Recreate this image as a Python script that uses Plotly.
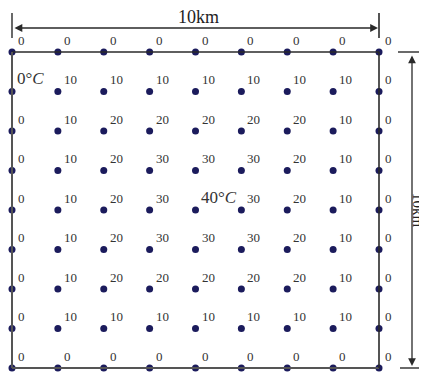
import plotly.graph_objects as go

# grid of temperatures (rows from top to bottom, columns left to right)
row_values = [
    [0, 0, 0, 0, 0, 0, 0, 0, 0],
    [0, 10, 10, 10, 10, 10, 10, 10, 0],
    [0, 10, 20, 20, 20, 20, 20, 10, 0],
    [0, 10, 20, 30, 30, 30, 20, 10, 0],
    [0, 10, 20, 30, 40, 30, 20, 10, 0],
    [0, 10, 20, 30, 30, 30, 20, 10, 0],
    [0, 10, 20, 20, 20, 20, 20, 10, 0],
    [0, 10, 10, 10, 10, 10, 10, 10, 0],
    [0, 0, 0, 0, 0, 0, 0, 0, 0],
]
domain_km = 10
n = 9
x_km = [i * domain_km / (n - 1) for i in range(n)]
y_km = [domain_km - i * domain_km / (n - 1) for i in range(n)]
special_labels = {(1, 0): "0°<i>C</i>", (4, 4): "40°<i>C</i>"}
dim_label = "10km"

# pixel mapping helpers (layout only; page pixels, page has 8px body margin)
PAGE_OFF = 8
PX_X0, PX_PER_KM_X = 12, 36.7
PX_Y0, PX_PER_KM_Y = 368, 31.6
W, H = 427, 372
def kx(px):
    return (px - PX_X0) / PX_PER_KM_X
def ky(py):
    return (PX_Y0 - py) / PX_PER_KM_Y

xs, ys = [], []
for r in range(n):
    for c in range(n):
        xs.append(x_km[c])
        ys.append(y_km[r])

fig = go.Figure()
line_col = "#2a2a2a"
shapes = [
    # border rectangle
    dict(type="line", x0=0, y0=domain_km, x1=domain_km, y1=domain_km, line=dict(color=line_col, width=1.6)),
    dict(type="line", x0=0, y0=0, x1=domain_km, y1=0, line=dict(color="#555", width=2)),
    dict(type="line", x0=0, y0=0, x1=0, y1=domain_km, line=dict(color="#555", width=2)),
    dict(type="line", x0=domain_km, y0=0, x1=domain_km, y1=domain_km, line=dict(color=line_col, width=1.6)),
    # top dimension ticks
    dict(type="line", x0=0, y0=ky(13), x1=0, y1=ky(38), line=dict(color="#444", width=1.6)),
    dict(type="line", x0=domain_km, y0=ky(13), x1=domain_km, y1=ky(38), line=dict(color=line_col, width=1.6)),
    # right dimension ticks
    dict(type="line", x0=kx(398), y0=domain_km, x1=kx(430), y1=domain_km, line=dict(color=line_col, width=1.4)),
    dict(type="line", x0=kx(400), y0=0, x1=kx(430), y1=0, line=dict(color=line_col, width=1.4)),
]

fig.add_trace(go.Scatter(
    x=xs, y=ys, mode="markers",
    marker=dict(color="#1b1b5c", size=7, line=dict(width=0)),
    hoverinfo="skip", showlegend=False, cliponaxis=False,
))

annotations = []
for r in range(n):
    for c in range(n):
        txt = special_labels.get((r, c), str(row_values[r][c]))
        big = (r, c) in special_labels
        annotations.append(dict(
            x=x_km[c], y=y_km[r], xref="x", yref="y", text=txt, showarrow=False,
            xanchor="left", yanchor="middle", xshift=4 if not big else 3,
            yshift=12 if not big else 13,
            font=dict(family="Liberation Serif", size=17 if big else 13, color="#333"),
        ))

# top dimension arrow
annotations.append(dict(x=domain_km, y=ky(28), ax=0, ay=ky(28), xref="x", yref="y", axref="x", ayref="y",
                        text="", showarrow=True, arrowhead=2, arrowside="end+start", arrowsize=1.2,
                        arrowwidth=1.3, arrowcolor=line_col, standoff=1, startstandoff=1))
# right dimension arrow
annotations.append(dict(x=kx(412), y=0, ax=kx(412), ay=domain_km, xref="x", yref="y", axref="x", ayref="y",
                        text="", showarrow=True, arrowhead=2, arrowside="end+start", arrowsize=1.2,
                        arrowwidth=1.3, arrowcolor=line_col, standoff=2, startstandoff=2))
annotations.append(dict(x=kx(198), y=ky(17), xref="x", yref="y", text=dim_label, showarrow=False,
                        font=dict(family="Liberation Serif", size=18, color="#222")))
annotations.append(dict(x=kx(418), y=ky(210), xref="x", yref="y", text=dim_label, showarrow=False,
                        textangle=90, font=dict(family="Liberation Serif", size=15, color="#222")))

fig.update_layout(
    width=W - PAGE_OFF, height=H - PAGE_OFF, margin=dict(l=0, r=0, t=0, b=0),
    paper_bgcolor="white", plot_bgcolor="white",
    xaxis=dict(range=[kx(PAGE_OFF), kx(W)], visible=False, fixedrange=True),
    yaxis=dict(range=[ky(H), ky(PAGE_OFF)], visible=False, fixedrange=True),
    shapes=shapes, annotations=annotations, showlegend=False,
)
fig.write_html("out.html")
